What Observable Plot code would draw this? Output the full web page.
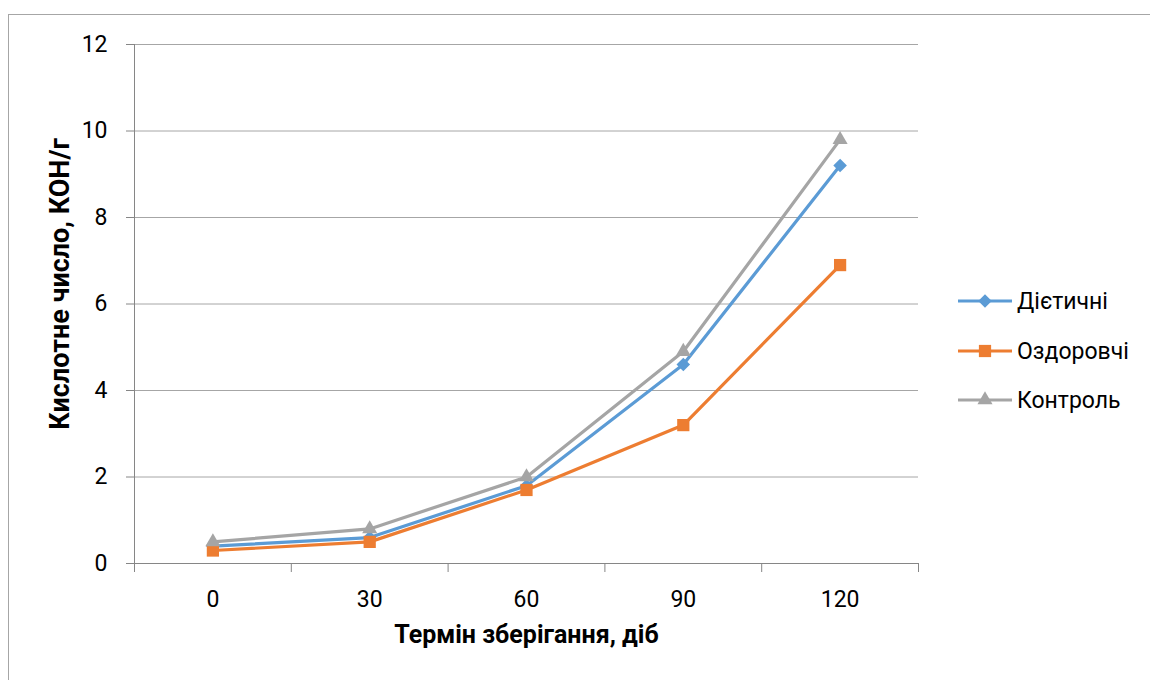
<!DOCTYPE html>
<html>
<head>
<meta charset="utf-8">
<script src="https://cdn.jsdelivr.net/npm/d3@7"></script>
<script src="https://cdn.jsdelivr.net/npm/@observablehq/plot@0.6"></script>
<style>
  html, body { margin: 0; padding: 0; background: #fff; overflow: hidden; }
  body { width: 1150px; height: 680px; position: relative; font-family: Roboto, "Open Sans", "Noto Sans", sans-serif; }
  #frame { position: absolute; left: 8px; top: 14px; width: 1300px; height: 800px; border: 1px solid #a6a6a6; box-sizing: border-box; }
  #chart { position: absolute; left: 0; top: 0; }
  #legend { position: absolute; left: 958px; top: 0; }
  .item { position: absolute; left: 0; display: flex; align-items: center; white-space: nowrap; font-size: 23px; color: #000; }
  .item svg { margin-right: 5px; }
</style>
</head>
<body>
<div id="frame"></div>
<div id="chart"></div>
<div id="legend"></div>
<script>
// Storage time, days
const days = [0, 30, 60, 90, 120];
// Acid number, KOH/g, for each product group
const dietychni = [0.4, 0.6, 1.8, 4.6, 9.2];
const ozdorovchi = [0.3, 0.5, 1.7, 3.2, 6.9];
const kontrol = [0.5, 0.8, 2.0, 4.9, 9.8];

const seriesNames = ["Дієтичні", "Оздоровчі", "Контроль"];
const seriesColors = ["#5B9BD5", "#ED7D31", "#A5A5A5"];
const seriesSymbols = ["diamond2", "square", "triangle"];
const seriesRadius = [6.1, 6.9, 5.6];

const yTicks = [0, 2, 4, 6, 8, 10, 12];
// category boundaries between the storage-time columns
const categoryEdges = [-15, 15, 45, 75, 105, 135];

const xTitle = "Термін зберігання, діб";
const yTitle = "Кислотне число, КОН/г";

const seriesValues = [dietychni, ozdorovchi, kontrol];
const rows = seriesNames.flatMap((name, i) =>
  days.map((d, j) => ({series: name, day: d, value: seriesValues[i][j]}))
);

const lineMarks = seriesNames.flatMap((name, i) => {
  const data = rows.filter(r => r.series === name);
  return [
    Plot.line(data, {x: "day", y: "value", stroke: seriesColors[i], strokeWidth: 3.2, strokeLinejoin: "round"}),
    Plot.dot(data, {x: "day", y: "value", fill: seriesColors[i], stroke: "none", symbol: () => seriesSymbols[i], r: seriesRadius[i]})
  ];
});

const chart = Plot.plot({
  width: 1150,
  height: 680,
  marginLeft: 134,
  marginRight: 232,
  marginTop: 44,
  marginBottom: 117,
  style: {fontFamily: "Roboto, 'Open Sans', sans-serif", fontSize: "23px", color: "#000", background: "transparent"},
  x: {domain: [-15, 135]},
  y: {domain: [0, 12]},
  symbol: {type: "identity"},
  marks: [
    Plot.ruleY(yTicks.filter(t => t > 0), {stroke: "#a6a6a6", strokeWidth: 1, strokeOpacity: 1}),
    Plot.ruleY([0], {stroke: "#868686", strokeWidth: 1, strokeOpacity: 1}),
    Plot.ruleX([categoryEdges[0]], {y1: 0, y2: 12, stroke: "#868686", strokeWidth: 1, strokeOpacity: 1}),
    Plot.axisY({ticks: yTicks, tickSize: 8, tickPadding: 19, stroke: "#868686", strokeOpacity: 1, label: null, fill: "#000", fontSize: 23}),
    Plot.axisX({ticks: categoryEdges, tickSize: 9, tickFormat: () => "", stroke: "#868686", strokeOpacity: 1, label: null}),
    Plot.axisX({ticks: days, tickSize: 0, tickPadding: 27, tickFormat: d => String(d), label: null, fill: "#000", fontSize: 23}),
    Plot.text([xTitle], {frameAnchor: "bottom", dy: 79, fontWeight: "bold", fontSize: 25, fill: "#000"}),
    Plot.text([yTitle], {frameAnchor: "left", dx: -74, dy: -20, rotate: -90, textAnchor: "middle", fontWeight: "bold", fontSize: 27, fill: "#000"}),
    ...lineMarks
  ]
});
document.getElementById("chart").appendChild(chart);

// Legend: line-with-marker swatch and series name
const legend = d3.select("#legend");
const legendTops = [301, 351, 400];
const symbolGen = {diamond2: d3.symbolDiamond2, square: d3.symbolSquare, triangle: d3.symbolTriangle};
seriesNames.forEach((name, i) => {
  const item = legend.append("div").attr("class", "item").style("top", (legendTops[i] - 15) + "px");
  const svg = item.append("svg").attr("width", 54).attr("height", 30);
  svg.append("line").attr("x1", 0).attr("x2", 54).attr("y1", 15).attr("y2", 15)
    .attr("stroke", seriesColors[i]).attr("stroke-width", 3.2);
  svg.append("path").attr("transform", "translate(27,15)")
    .attr("d", d3.symbol(symbolGen[seriesSymbols[i]], Math.PI * seriesRadius[i] ** 2)())
    .attr("fill", seriesColors[i]);
  item.append("span").text(name);
});
</script>
</body>
</html>
